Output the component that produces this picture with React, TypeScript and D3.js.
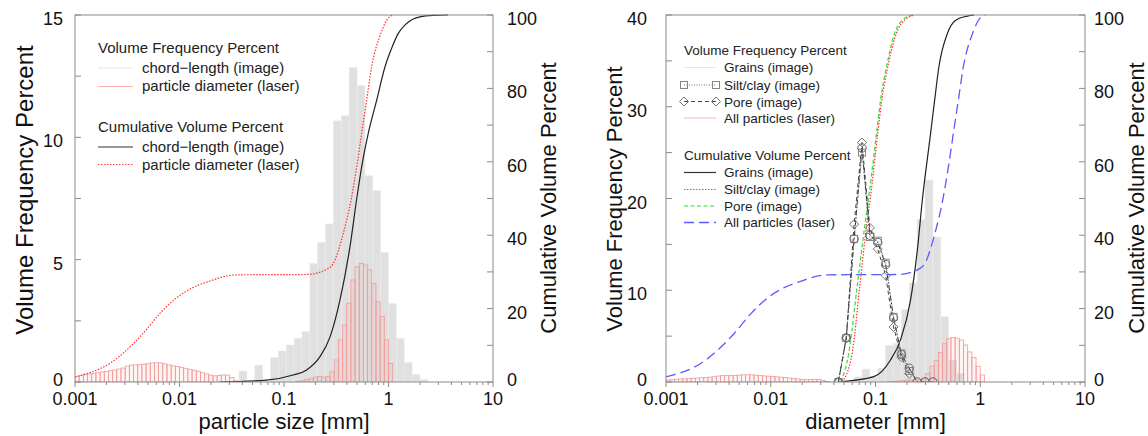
import React from "react";
import * as d3 from "d3";

// ---------- data ----------
// gray histograms use quarter-phi bins: bin k spans 2^(k/4) .. 2^((k+1)/4) mm
const chordFirstBin = -19;
const chordFreq = [0.45, 0, 0.69, 0, 1.0, 1.27, 1.51, 1.79, 2.06, 4.85, 5.71, 6.46, 10.67, 10.88, 12.86, 12.11, 8.43, 7.82, 5.3, 3.2, 1.79, 0.8, 0.31, 0.1];

const grainsFirstBin = -16;
const grainsFreq = [0.55, 1.4, 0.6, 1.5, 4.0, 4.2, 7.9, 10.8, 17.7, 22.0, 15.8, 7.1, 2.4, 0.95];

// laser diffraction: 25 bins per decade from 0.001 mm
const laserFirstEdge = 0.001;
const laserBinsPerDecade = 25;
const laserFreq = [
  0.22, 0.26, 0.30, 0.33, 0.35, 0.38, 0.41, 0.43, 0.46, 0.49,
  0.53, 0.57, 0.65, 0.69, 0.70, 0.71, 0.73, 0.75, 0.78, 0.79,
  0.78, 0.74, 0.70, 0.66, 0.63, 0.60, 0.56, 0.52, 0.48, 0.44,
  0.38, 0.33, 0.28, 0.25, 0.27, 0.29, 0.28, 0.18, 0.05, 0,
  0, 0, 0, 0, 0, 0, 0, 0, 0, 0,
  0, 0, 0, 0.02, 0.05, 0.10, 0.15, 0.20, 0.22, 0.20,
  0.22, 0.42, 0.90, 1.72, 2.33, 3.22, 4.17, 4.71, 4.85, 4.78,
  4.58, 4.03, 3.28, 2.67, 1.72, 0.76,
];

// cumulative curves
const chordCumSize = [0.024, 0.068, 0.122, 0.165, 0.221, 0.276, 0.343, 0.428, 0.497, 0.554, 0.641, 0.771, 0.926, 1.057, 1.24, 1.49, 2.0, 2.8, 3.7];
const chordCum = [0, 0.5, 1.9, 3.3, 6.9, 12.3, 22.3, 36.9, 50, 58.7, 67.8, 76.8, 85.9, 90.5, 95, 97.7, 99.5, 99.9, 100];

const laserCumSize = [0.001, 0.00216, 0.0045, 0.0065, 0.0094, 0.0136, 0.0196, 0.0283, 0.0353, 0.165, 0.256, 0.296, 0.369, 0.44, 0.497, 0.554, 0.618, 0.69, 0.845, 1.02, 1.12];
const laserCum = [1.4, 5.1, 13.3, 18.7, 23.0, 25.8, 27.5, 28.9, 29.2, 29.3, 30.7, 32.3, 40.5, 49.8, 58.7, 67.8, 76.8, 85.9, 95, 99.5, 100];

const grainsCumSize = [0.0443, 0.0963, 0.139, 0.173, 0.216, 0.251, 0.28, 0.336, 0.367, 0.403, 0.486, 0.583, 0.754, 0.873];
const grainsCum = [0, 1.45, 6, 11.4, 22.3, 36, 49.6, 67.8, 76.8, 85.9, 95, 98.6, 99.7, 100];

const siltCumSize = [0.048, 0.0598, 0.0707, 0.0833, 0.0897, 0.105, 0.1148, 0.131, 0.158, 0.1895, 0.236];
const siltCum = [0, 7.8, 26, 44, 50.5, 67.8, 76.8, 85.9, 95, 98.6, 100];

const poreCumSize = [0.0468, 0.0555, 0.0668, 0.0802, 0.0877, 0.1023, 0.1117, 0.1274, 0.152, 0.18, 0.226];
const poreCum = [0, 7.8, 26, 44, 52, 67.8, 76.8, 85.9, 95, 98.6, 100];

// image frequency series with markers
const markerSize = [0.0442, 0.0526, 0.0625, 0.0743, 0.0884, 0.1051, 0.125, 0.1487, 0.1768, 0.2102, 0.25, 0.2973, 0.3536];
const circleFreq = [0, 4.8, 15.6, 25.5, 16.0, 15.2, 12.8, 7.0, 3.0, 1.5, 0, 0, 0];
const siltFreq = [0, 4.8, 15.6, 25.0, 15.8, 15.4, 13.0, 7.1, 3.1, 1.2];
const poreFreq = [0, 4.8, 17.2, 26.1, 16.8, 14.5, 11.6, 6.0, 2.7, 0.9];

const xTickLabels = ["0.001", "0.01", "0.1", "1", "10"];

// ---------- layout ----------
const W = 1148;
const H = 436;
const TOP = 15;
const BOTTOM = 382;
const FONT = "'Liberation Sans', Arial, Helvetica, sans-serif";

const panels = [
  { id: "a", x0: 75, x1: 493, yMax: 15, yMajor: [0, 5, 10, 15], yMinor: 2.5, leftLabelX: 63, rightLabelX: 507, xTitle: "particle size [mm]", leftTitleX: 33, leftTitleY: 190, leftTitleSize: 24, rightTitleX: 556 },
  { id: "b", x0: 666, x1: 1085, yMax: 40, yMajor: [0, 10, 20, 30, 40], yMinor: 5, leftLabelX: 647, rightLabelX: 1094, xTitle: "diameter [mm]", leftTitleX: 622, leftTitleY: 199, leftTitleSize: 22, rightTitleX: 1143.5 },
];

const quarterPhi = (k: number) => Math.pow(2, k / 4);
const laserEdge = (i: number) => laserFirstEdge * Math.pow(10, i / laserBinsPerDecade);

function Axes({ p, x, yF }: any) {
  const yC = d3.scaleLinear().domain([0, 100]).range([BOTTOM, TOP]);
  const xt = x.ticks();
  return (
    <g fontFamily={FONT} fill="#111">
      <rect x={p.x0} y={TOP} width={p.x1 - p.x0} height={BOTTOM - TOP} fill="none" stroke="#8a8a8a" strokeWidth={1} />
      {d3.range(0, p.yMax + 0.001, p.yMinor).map((v: number) => (
        <line key={"yl" + v} x1={p.x0} x2={p.x0 + 6} y1={yF(v)} y2={yF(v)} stroke="#8a8a8a" />
      ))}
      {d3.range(0, 101, 10).map((v: number) => (
        <line key={"yr" + v} x1={p.x1 - 6} x2={p.x1} y1={yC(v)} y2={yC(v)} stroke="#8a8a8a" />
      ))}
      {xt.map((t: number) => {
        const major = Math.abs(Math.log10(t) - Math.round(Math.log10(t))) < 1e-6;
        return <line key={"xt" + t} x1={x(t)} x2={x(t)} y1={BOTTOM} y2={BOTTOM + (major ? 5 : 3)} stroke="#8a8a8a" />;
      })}
      {p.yMajor.map((v: number) => (
        <text key={"lyl" + v} x={p.leftLabelX} y={yF(v) + (v === 0 ? 3.5 : 10)} fontSize={18} textAnchor="end">{v}</text>
      ))}
      {d3.range(0, 101, 20).map((v: number) => (
        <text key={"lyr" + v} x={p.rightLabelX} y={yC(v) + (v === 0 ? 4 : 10)} fontSize={18} textAnchor="start">{v}</text>
      ))}
      {xTickLabels.map((s) => (
        <text key={"lx" + s} x={x(+s)} y={405} fontSize={18} textAnchor="middle">{s}</text>
      ))}
      <text x={(p.x0 + p.x1) / 2} y={429} fontSize={22} textAnchor="middle">{p.xTitle}</text>
      <text transform={`translate(${p.leftTitleX},${p.leftTitleY}) rotate(-90)`} fontSize={p.leftTitleSize} textAnchor="middle">Volume Frequency Percent</text>
      <text transform={`translate(${p.rightTitleX},198) rotate(-90)`} fontSize={22} textAnchor="middle">Cumulative Volume Percent</text>
    </g>
  );
}

function GrayBars({ x, yF, first, values }: any) {
  return (
    <g>
      {values.map((v: number, i: number) =>
        v > 0 ? (
          <rect key={i} x={x(quarterPhi(first + i))} y={yF(v)} width={x(quarterPhi(first + i + 1)) - x(quarterPhi(first + i))} height={BOTTOM - yF(v)} fill="#e0e0e0" stroke="#ebebeb" strokeWidth={0.6} />
        ) : null
      )}
    </g>
  );
}

function LaserBars({ x, yF }: any) {
  return (
    <g>
      {laserFreq.map((v, i) =>
        v > 0 ? (
          <rect key={i} x={x(laserEdge(i))} y={yF(v)} width={x(laserEdge(i + 1)) - x(laserEdge(i))} height={BOTTOM - yF(v)} fill="rgba(255,120,120,0.08)" stroke="#f29a9a" strokeWidth={0.8} />
        ) : null
      )}
    </g>
  );
}

function curvePath(x: any, y: any, xs: number[], ys: number[], smooth = true) {
  const pts = xs.map((d, i) => [x(d), y(ys[i])] as [number, number]);
  return d3.line().curve(smooth ? d3.curveMonotoneX : d3.curveLinear)(pts) || "";
}

const Square = ({ cx, cy }: any) => <rect x={cx - 3.5} y={cy - 3.5} width={7} height={7} fill="none" stroke="#7a7a7a" strokeWidth={0.9} />;
const Diamond = ({ cx, cy }: any) => <path d={`M${cx},${cy - 4.5}L${cx + 4.5},${cy}L${cx},${cy + 4.5}L${cx - 4.5},${cy}Z`} fill="none" stroke="#666" strokeWidth={0.9} />;
const Circle = ({ cx, cy }: any) => <circle cx={cx} cy={cy} r={4.2} fill="none" stroke="#555" strokeWidth={0.9} />;

export default function App() {
  const [pa, pb] = panels;
  const xa = d3.scaleLog().domain([0.001, 10]).range([pa.x0, pa.x1]);
  const xb = d3.scaleLog().domain([0.001, 10]).range([pb.x0, pb.x1]);
  const yFa = d3.scaleLinear().domain([0, pa.yMax]).range([BOTTOM, TOP]);
  const yFb = d3.scaleLinear().domain([0, pb.yMax]).range([BOTTOM, TOP]);
  const yC = d3.scaleLinear().domain([0, 100]).range([BOTTOM, TOP]);

  const legA = 98;
  const legB = 684;

  return (
    <svg width={W} height={H} style={{ position: "absolute", left: 0, top: 0, background: "#fff" }} fontFamily={FONT}>
      <defs>
        <clipPath id="clipA"><rect x={pa.x0} y={TOP - 1} width={pa.x1 - pa.x0} height={BOTTOM - TOP + 1} /></clipPath>
        <clipPath id="clipB"><rect x={pb.x0} y={TOP - 1} width={pb.x1 - pb.x0} height={BOTTOM - TOP + 1} /></clipPath>
      </defs>

      {/* ---------- left panel ---------- */}
      <g clipPath="url(#clipA)">
        <GrayBars x={xa} yF={yFa} first={chordFirstBin} values={chordFreq} />
        <LaserBars x={xa} yF={yFa} />
        <path d={curvePath(xa, yC, laserCumSize, laserCum)} fill="none" stroke="#ff3030" strokeWidth={1.2} strokeDasharray="1.5,1.5" />
        <path d={curvePath(xa, yC, chordCumSize, chordCum)} fill="none" stroke="#222" strokeWidth={1.2} />
      </g>
      <Axes p={pa} x={xa} yF={yFa} />
      <g fontSize={15} fill="#222">
        <text x={legA} y={53}>Volume Frequency Percent</text>
        <line x1={legA} x2={legA + 35} y1={68} y2={68} stroke="#e6e6e6" />
        <text x={142} y={73}>chord−length (image)</text>
        <line x1={legA} x2={legA + 35} y1={86.5} y2={86.5} stroke="#ffb0b0" />
        <text x={142} y={91}>particle diameter (laser)</text>
        <text x={legA} y={132}>Cumulative Volume Percent</text>
        <line x1={legA} x2={legA + 35} y1={147} y2={147} stroke="#333" strokeWidth={1.2} />
        <text x={142} y={152}>chord−length (image)</text>
        <line x1={legA} x2={legA + 35} y1={164.5} y2={164.5} stroke="#ff4040" strokeWidth={1.2} strokeDasharray="1.5,1.5" />
        <text x={142} y={169.5}>particle diameter (laser)</text>
      </g>

      {/* ---------- right panel ---------- */}
      <g clipPath="url(#clipB)">
        <GrayBars x={xb} yF={yFb} first={grainsFirstBin} values={grainsFreq} />
        <LaserBars x={xb} yF={yFb} />
        <path d={curvePath(xb, yC, laserCumSize, laserCum)} fill="none" stroke="#5a5aff" strokeWidth={1.3} strokeDasharray="10,5" />
        <path d={curvePath(xb, yC, grainsCumSize, grainsCum)} fill="none" stroke="#222" strokeWidth={1.2} />
        <path d={curvePath(xb, yC, poreCumSize, poreCum)} fill="none" stroke="#33dd33" strokeWidth={1.2} strokeDasharray="4,2.5" />
        <path d={curvePath(xb, yC, siltCumSize, siltCum)} fill="none" stroke="#ff3030" strokeWidth={1.2} strokeDasharray="1.5,1.5" />
        <path d={curvePath(xb, yFb, markerSize, circleFreq, false)} fill="none" stroke="#222" strokeWidth={1} strokeDasharray="5,2,1.5,2" />
        <path d={curvePath(xb, yFb, markerSize.slice(0, siltFreq.length), siltFreq, false)} fill="none" stroke="#777" strokeWidth={1} strokeDasharray="1,1.5" />
        <path d={curvePath(xb, yFb, markerSize.slice(0, poreFreq.length), poreFreq, false)} fill="none" stroke="#444" strokeWidth={1} strokeDasharray="4,3" />
        {circleFreq.map((v, i) => <Circle key={"c" + i} cx={xb(markerSize[i])} cy={yFb(v)} />)}
        {siltFreq.map((v, i) => <Square key={"s" + i} cx={xb(markerSize[i])} cy={yFb(v)} />)}
        {poreFreq.map((v, i) => <Diamond key={"d" + i} cx={xb(markerSize[i])} cy={yFb(v)} />)}
      </g>
      <Axes p={pb} x={xb} yF={yFb} />
      <g fontSize={13.5} fill="#222">
        <text x={legB} y={55}>Volume Frequency Percent</text>
        <line x1={legB} x2={legB + 32} y1={67.5} y2={67.5} stroke="#e6e6e6" />
        <text x={724} y={72}>Grains (image)</text>
        <line x1={legB} x2={legB + 32} y1={85} y2={85} stroke="#777" strokeDasharray="1,1.5" />
        <Square cx={legB} cy={85} />
        <Square cx={legB + 32} cy={85} />
        <text x={724} y={89.5}>Silt/clay (image)</text>
        <line x1={legB} x2={legB + 32} y1={101.5} y2={101.5} stroke="#444" strokeDasharray="4,3" />
        <Diamond cx={legB} cy={101.5} />
        <Diamond cx={legB + 32} cy={101.5} />
        <text x={724} y={106.5}>Pore (image)</text>
        <line x1={legB} x2={legB + 32} y1={118} y2={118} stroke="#ffb0b0" />
        <text x={724} y={123}>All particles (laser)</text>
        <text x={legB} y={159.5}>Cumulative Volume Percent</text>
        <line x1={legB} x2={legB + 32} y1={172.5} y2={172.5} stroke="#333" strokeWidth={1.2} />
        <text x={724} y={177}>Grains (image)</text>
        <line x1={legB} x2={legB + 32} y1={189.5} y2={189.5} stroke="#ff4040" strokeWidth={1.2} strokeDasharray="1.5,1.5" />
        <text x={724} y={194}>Silt/clay (image)</text>
        <line x1={legB} x2={legB + 32} y1={206} y2={206} stroke="#33dd33" strokeWidth={1.2} strokeDasharray="4,2.5" />
        <text x={724} y={210.5}>Pore (image)</text>
        <line x1={legB} x2={legB + 32} y1={222.5} y2={222.5} stroke="#5a5aff" strokeWidth={1.3} strokeDasharray="10,5" />
        <text x={724} y={227}>All particles (laser)</text>
      </g>
    </svg>
  );
}
